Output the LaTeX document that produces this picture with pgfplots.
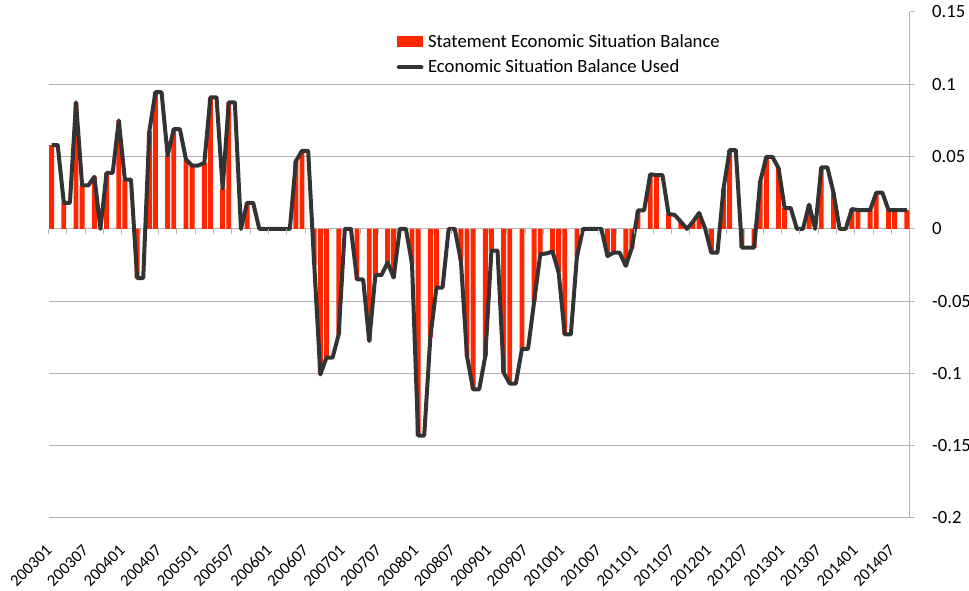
\documentclass[border=0pt]{standalone}
\usepackage{pgfplots}
\pgfplotsset{compat=1.18}
\usepackage{pgfplotstable}
\usepackage{fontspec}
\setmainfont{Carlito}
\definecolor{barred}{RGB}{255,38,0}
\definecolor{linegray}{RGB}{51,51,51}
\definecolor{gridgray}{RGB}{180,180,180}

\pgfplotstableread{
x y
0 0.058
1 0.058
2 0.018
3 0.018
4 0.0875
5 0.030
6 0.030
7 0.036
8 0.000
9 0.0387
10 0.0387
11 0.075
12 0.034
13 0.034
14 -0.034
15 -0.034
16 0.0675
17 0.0945
18 0.0945
19 0.0507
20 0.069
21 0.069
22 0.048
23 0.0438
24 0.0438
25 0.0456
26 0.091
27 0.091
28 0.028
29 0.0875
30 0.0875
31 0
32 0.018
33 0.018
34 0
35 0
36 0
37 0
38 0
39 0
40 0.047
41 0.054
42 0.054
43 -0.025
44 -0.1007
45 -0.089
46 -0.089
47 -0.073
48 0
49 0
50 -0.035
51 -0.035
52 -0.0776
53 -0.032
54 -0.032
55 -0.0233
56 -0.0337
57 0
58 0
59 -0.024
60 -0.143
61 -0.143
62 -0.075
63 -0.0406
64 -0.0406
65 0
66 0
67 -0.022
68 -0.088
69 -0.111
70 -0.111
71 -0.088
72 -0.015
73 -0.015
74 -0.0995
75 -0.107
76 -0.107
77 -0.083
78 -0.083
79 -0.05
80 -0.0176
81 -0.017
82 -0.0157
83 -0.030
84 -0.073
85 -0.073
86 -0.019
87 0
88 0
89 0
90 0
91 -0.0188
92 -0.0165
93 -0.0165
94 -0.0256
95 -0.013
96 0.0128
97 0.0128
98 0.0377
99 0.0372
100 0.0372
101 0.0103
102 0.0096
103 0.005
104 0
105 0.005
106 0.011
107 0
108 -0.0165
109 -0.0165
110 0.028
111 0.0545
112 0.0545
113 -0.013
114 -0.013
115 -0.013
116 0.0327
117 0.0498
118 0.0498
119 0.042
120 0.0144
121 0.0144
122 0
123 0
124 0.0167
125 0
126 0.0425
127 0.0425
128 0.025
129 0
130 0
131 0.0137
132 0.013
133 0.013
134 0.013
135 0.025
136 0.025
137 0.013
138 0.013
139 0.013
140 0.013
}\usedtable

\pgfplotstableread{
x y
0 0.058
2 0.018
4 0.0875
5 0.030
7 0.036
9 0.0387
11 0.075
12 0.034
14 -0.034
16 0.0675
17 0.0945
19 0.0507
20 0.069
22 0.048
23 0.0438
25 0.0456
26 0.091
28 0.028
29 0.0875
32 0.018
40 0.047
41 0.054
43 -0.025
44 -0.1007
45 -0.089
47 -0.073
50 -0.035
52 -0.0776
53 -0.032
55 -0.0233
56 -0.0337
59 -0.024
60 -0.143
62 -0.075
63 -0.0406
67 -0.022
68 -0.088
69 -0.111
71 -0.088
72 -0.015
74 -0.0995
75 -0.107
77 -0.083
79 -0.05
80 -0.0176
82 -0.0157
83 -0.030
84 -0.073
86 -0.019
91 -0.0188
92 -0.0165
94 -0.0256
95 -0.013
96 0.0128
98 0.0377
99 0.0372
101 0.0103
103 0.005
105 0.005
106 0.011
108 -0.0165
110 0.028
111 0.0545
113 -0.013
115 -0.013
116 0.0327
117 0.0498
119 0.042
120 0.0144
124 0.0167
126 0.0425
128 0.025
131 0.0137
132 0.013
134 0.013
135 0.025
137 0.013
138 0.013
140 0.013
}\stmttable

\begin{document}
\begin{tikzpicture}
\begin{axis}[
  scale only axis, width=646pt, height=379.5pt,
  xmin=-0.5, xmax=140.5, ymin=-0.2, ymax=0.15,
  axis x line*=bottom, axis y line*=right,
  x axis line style={gridgray, line width=0.75pt},
  y axis line style={gridgray, line width=0.75pt},
  xtick={0,6,...,138},
  xticklabels={200301,200307,200401,200407,200501,200507,200601,200607,200701,200707,200801,200807,200901,200907,201001,201007,201101,201107,201201,201207,201301,201307,201401,201407},
  x tick label style={yshift=-15pt, xshift=-5pt, rotate=45, anchor=north east, inner sep=0pt, font=\fontsize{12.5}{14}\selectfont},
  xtick style={draw=none},
  ytick={-0.2,-0.15,-0.1,-0.05,0,0.05,0.1},
  yticklabels={-0.2,-0.15,-0.1,-0.05,0,0.05,0.1},
  extra y ticks={0.15}, extra y tick labels={0.15},
  extra y tick style={grid=none},
  y tick label style={anchor=west, inner sep=0pt, xshift=12.5pt, font=\fontsize{14}{16}\selectfont},
  ytick style={gridgray, line width=0.75pt},
  tick align=outside, major tick length=4pt,
  ymajorgrids, major grid style={gridgray, line width=0.75pt},
  legend style={draw=none, fill=none, at={(0.404,0.958)}, anchor=north west,
    font=\fontsize{14}{16}\selectfont, row sep=5.5pt, inner sep=0pt,
    nodes={inner sep=1pt},
    /tikz/every odd column/.append style={column sep=2.5pt}},
  legend cell align=left,
]
\addplot[ybar, bar width=0.8, fill=barred, draw=none,
  legend image code/.code={\fill[barred] (0pt,-3.5pt) rectangle (20pt,4.5pt);}]
  table[x=x,y=y]{\stmttable};
\addlegendentry{Statement Economic Situation Balance}
\addplot[linegray, line width=3pt, line join=round, mark=none,
  legend image code/.code={\draw[linegray, line width=3pt, line cap=round] (1.5pt,0pt) -- (18.5pt,0pt);}]
  table[x=x,y=y]{\usedtable};
\addlegendentry{Economic Situation Balance Used}
\end{axis}
\begin{axis}[
  scale only axis, width=646pt, height=379.5pt,
  xmin=-0.5, xmax=140.5, ymin=-0.2, ymax=0.15,
  axis x line=middle, axis y line=none,
  x axis line style={draw=none},
  xtick={-0.5,2.5,...,140.5}, xticklabels={},
  xtick style={gridgray, line width=0.75pt},
  tick align=outside, major tick length=4pt,
]
\end{axis}
\pgfresetboundingbox
\path (-36.4pt,-54.75pt) rectangle (690.35pt,388.5pt);
\end{tikzpicture}
\end{document}
